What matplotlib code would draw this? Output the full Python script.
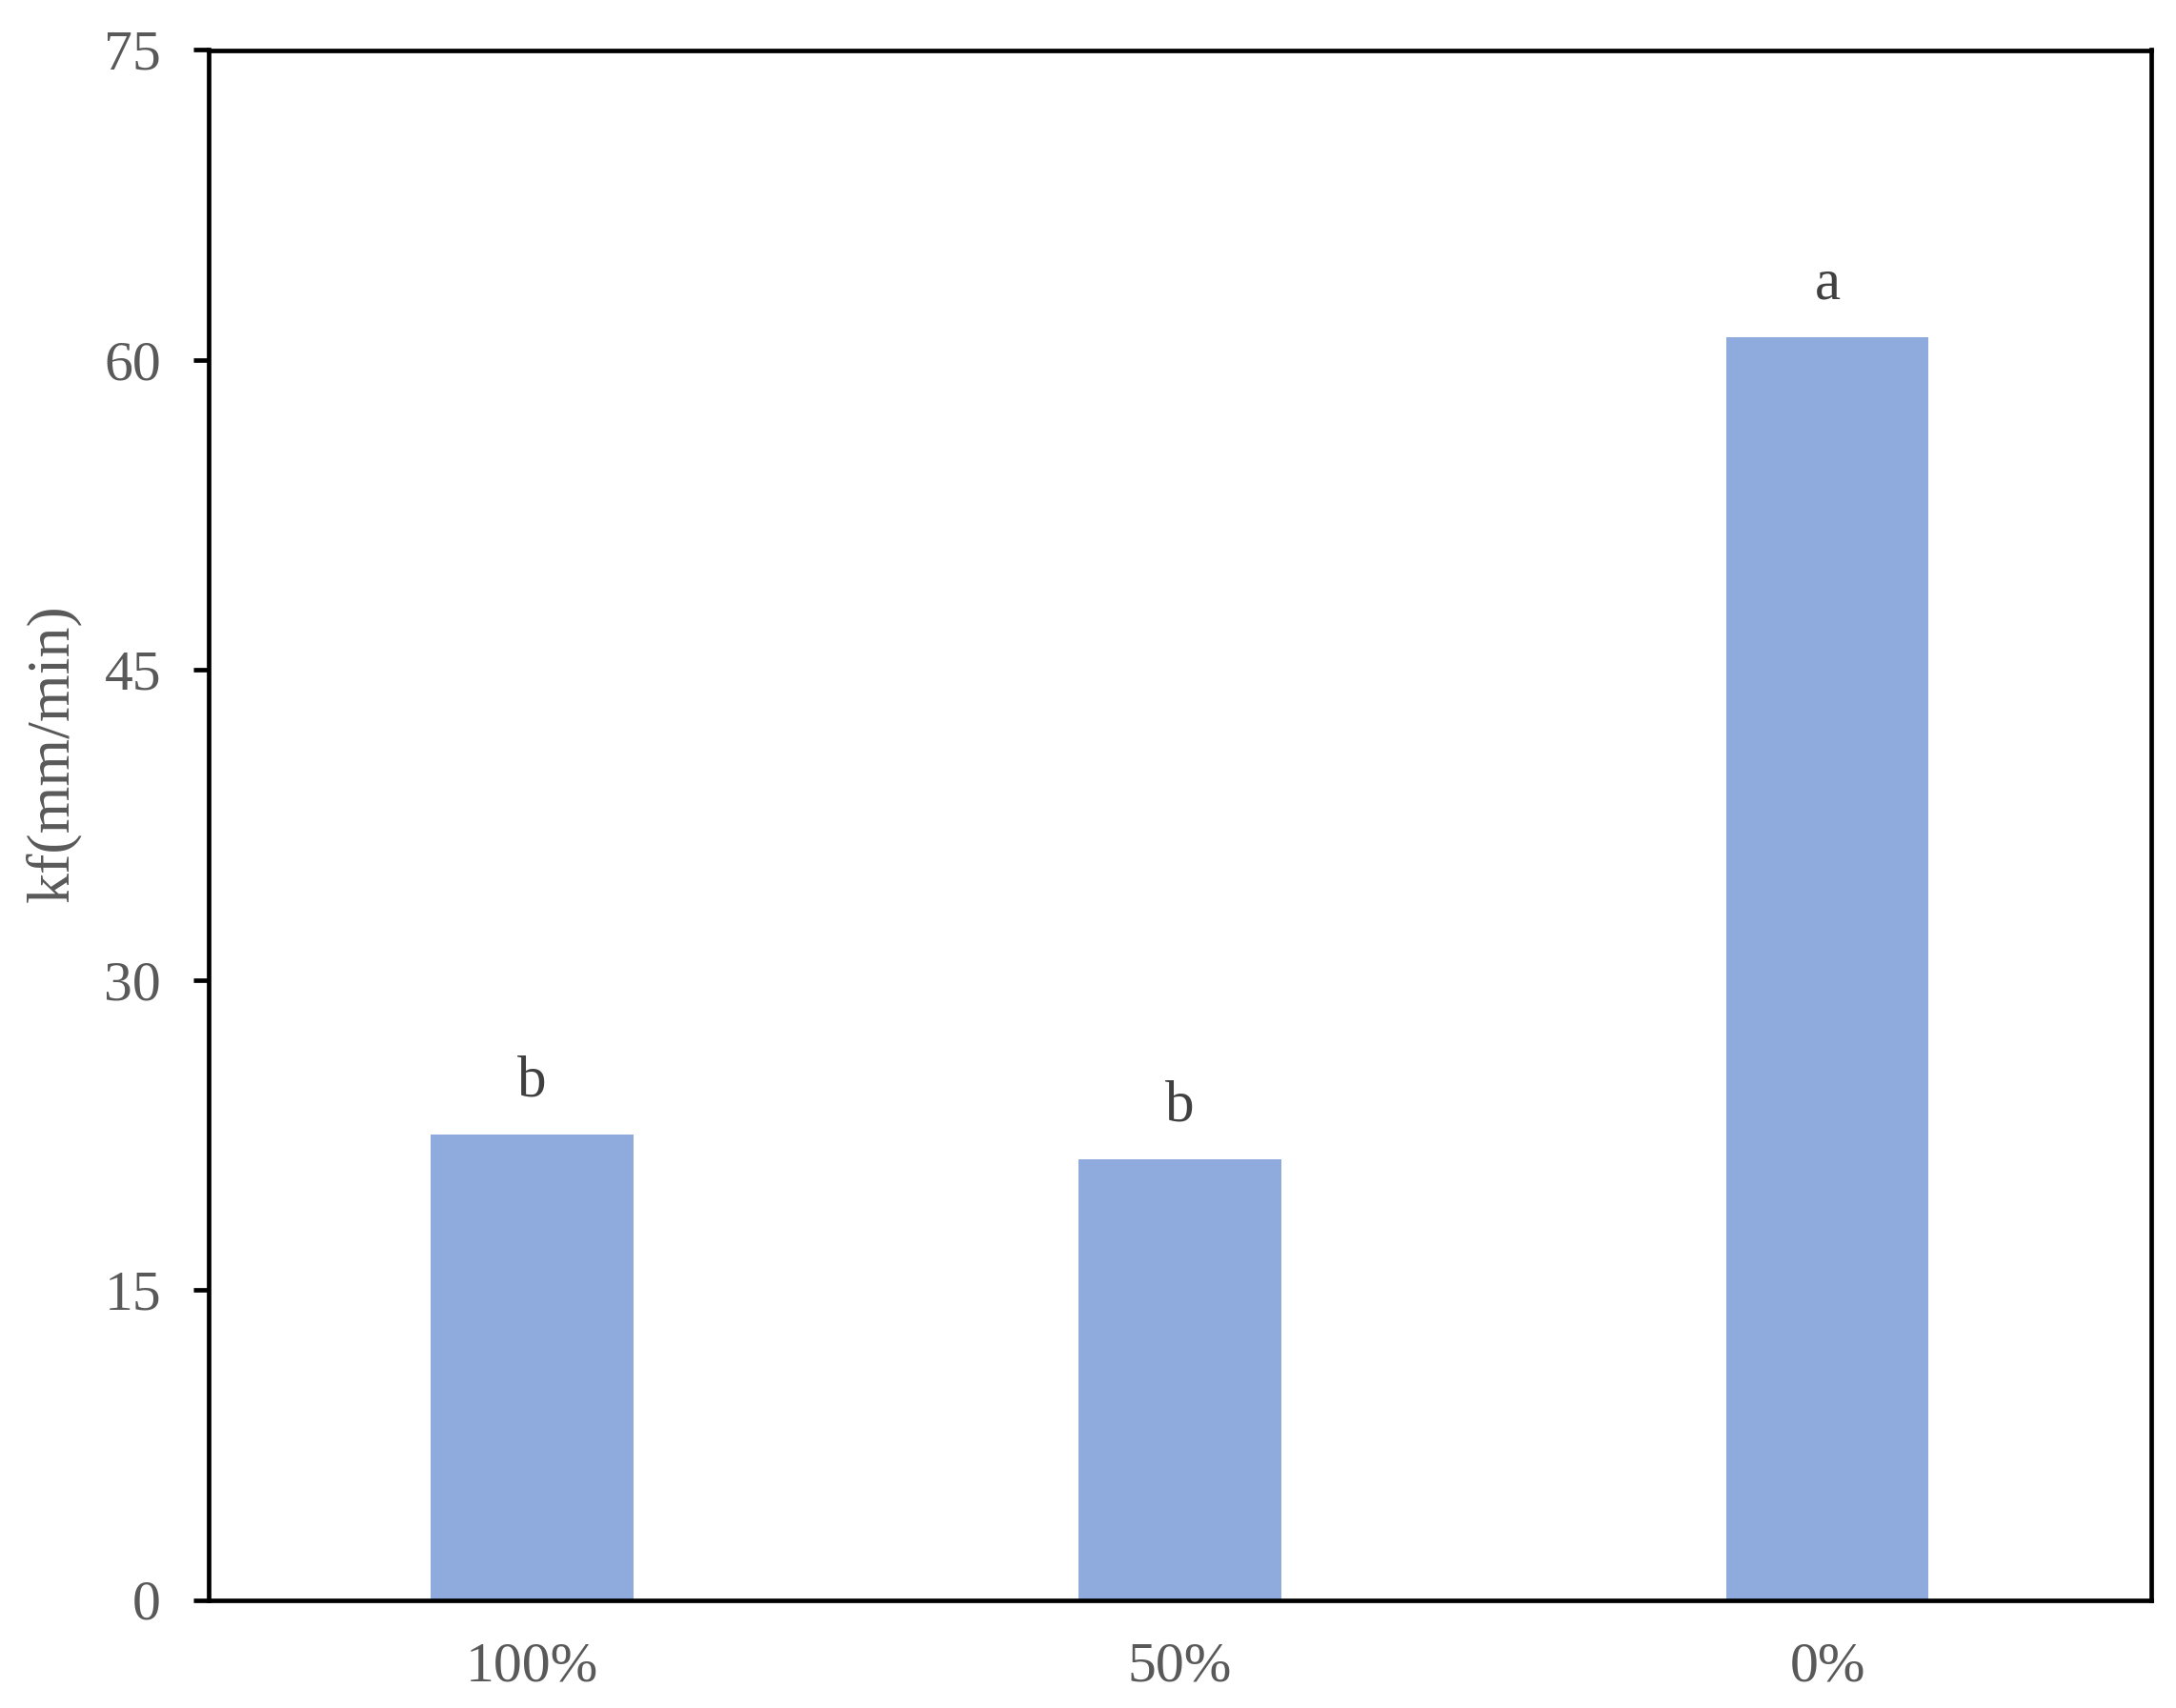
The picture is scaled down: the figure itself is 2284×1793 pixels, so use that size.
import matplotlib.pyplot as plt
import numpy as np

# data
categories = ["100%", "50%", "0%"]
kf_values = [22.5, 21.3, 61.1]
sig_letters = ["b", "b", "a"]

plt.rcParams['font.family'] = ['Liberation Serif', 'DejaVu Serif']

fig = plt.figure(figsize=(11.42, 8.965), dpi=200)
ax = fig.add_axes([218.5 / 2284, 1 - 1679.5 / 1793, (2258 - 218.5) / 2284, (1679.5 - 52.5) / 1793])

x = np.arange(len(categories))
ax.bar(x, kf_values, width=0.313, color="#8faadc", zorder=2)

# significance letters above bars
for xi, v, s in zip(x, kf_values, sig_letters):
    ax.annotate(s, (xi, v), xytext=(0, 10), textcoords="offset points",
                ha="center", va="bottom", fontsize=22, color="#404040")

ax.set_xlim(-0.5, len(categories) - 0.5)
ax.set_ylim(0, 75)
ax.set_yticks(np.arange(0, 76, 15))
ax.set_xticks(x)
ax.set_xticklabels(categories)

for sp in ax.spines.values():
    sp.set_linewidth(1.7)
    sp.set_color("black")

ax.tick_params(axis="y", direction="out", length=5.8, width=1.7, pad=12,
               labelsize=21.5, labelcolor="#595959")
ax.tick_params(axis="x", length=0, pad=16, labelsize=21.5, labelcolor="#595959")

ax.set_ylabel("kf(mm/min)", fontsize=23, color="#595959")
ax.yaxis.set_label_coords(-0.0655, 0.546)

fig.savefig("out.png", dpi=200)
